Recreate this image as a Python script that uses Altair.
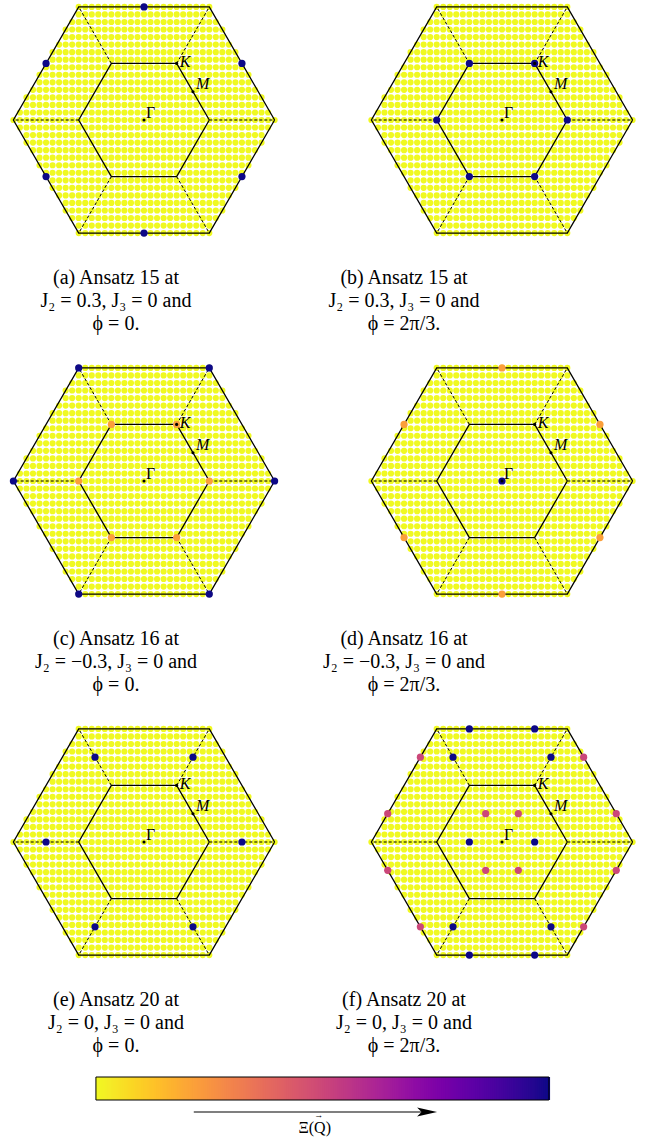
import numpy as np
import pandas as pd
import altair as alt

S3 = np.sqrt(3.0)

# ---------------------------------------------------------------
# Momentum grid of the extended Brillouin zone (units: |ΓK| = 1)
# ---------------------------------------------------------------
GRID_DX = 0.1
GRID_DY = S3 / 15

# Corners of the first zone (radius 1) and of the extended zone (radius 2)
corner_angles = [0, 60, 120, 180, 240, 300, 360]
inner_radius = 1.0
outer_radius = 2.0

# High-symmetry points
sym_names = ["Γ", "K", "M"]
sym_x = [0.0, 0.5, 0.75]
sym_y = [0.0, S3 / 2, S3 / 4]

# Normalised Ξ(Q) at the momenta where the structure factor departs from its
# background value, one set per panel (x, y, value)
a_x = [0.0, 0.0, -1.5, 1.5, -1.5, 1.5]
a_y = [S3, -S3, S3 / 2, S3 / 2, -S3 / 2, -S3 / 2]
a_v = [1, 1, 1, 1, 1, 1]

b_x = [1.0, -1.0, 0.5, -0.5, 0.5, -0.5]
b_y = [0.0, 0.0, S3 / 2, S3 / 2, -S3 / 2, -S3 / 2]
b_v = [1, 1, 1, 1, 1, 1]

c_x = [2.0, -2.0, 1.0, -1.0, 1.0, -1.0, 1.0, -1.0, 0.5, -0.5, 0.5, -0.5]
c_y = [0.0, 0.0, S3, S3, -S3, -S3, 0.0, 0.0, S3 / 2, S3 / 2, -S3 / 2, -S3 / 2]
c_v = [1, 1, 1, 1, 1, 1, 0.22, 0.22, 0.22, 0.22, 0.22, 0.22]

d_x = [0.0, 0.0, -1.5, 1.5, -1.5, 1.5, 0.0]
d_y = [S3, -S3, S3 / 2, S3 / 2, -S3 / 2, -S3 / 2, 0.0]
d_v = [0.22, 0.22, 0.22, 0.22, 0.22, 0.22, 1]

e_x = [1.5, -1.5, 0.75, -0.75, 0.75, -0.75]
e_y = [0.0, 0.0, 0.75 * S3, 0.75 * S3, -0.75 * S3, -0.75 * S3]
e_v = [1, 1, 1, 1, 1, 1]

f_x = [0.5, -0.5, 0.5, -0.5, 0.75, -0.75, 0.75, -0.75, 0.5, -0.5,
       0.25, -0.25, 0.25, -0.25, 1.75, -1.75, 1.75, -1.75,
       1.25, -1.25, 1.25, -1.25]
f_y = [S3, S3, -S3, -S3, 0.75 * S3, 0.75 * S3, -0.75 * S3, -0.75 * S3, 0.0, 0.0,
       S3 / 4, S3 / 4, -S3 / 4, -S3 / 4, S3 / 4, S3 / 4, -S3 / 4, -S3 / 4,
       0.75 * S3, 0.75 * S3, -0.75 * S3, -0.75 * S3]
f_v = [1] * 10 + [0.5] * 12

captions = [
    ["(a) Ansatz 15 at", "J₂ = 0.3, J₃ = 0 and", "ϕ = 0."],
    ["(b) Ansatz 15 at", "J₂ = 0.3, J₃ = 0 and", "ϕ = 2π/3."],
    ["(c) Ansatz 16 at", "J₂ = −0.3, J₃ = 0 and", "ϕ = 0."],
    ["(d) Ansatz 16 at", "J₂ = −0.3, J₃ = 0 and", "ϕ = 2π/3."],
    ["(e) Ansatz 20 at", "J₂ = 0, J₃ = 0 and", "ϕ = 0."],
    ["(f) Ansatz 20 at", "J₂ = 0, J₃ = 0 and", "ϕ = 2π/3."],
]

# ---------------------------------------------------------------
# Derived tables
# ---------------------------------------------------------------
gx = np.round(np.arange(-20, 21) * GRID_DX, 6)
gy = np.arange(-15, 16) * GRID_DY
GX, GY = np.meshgrid(gx, gy)
GX, GY = GX.ravel(), GY.ravel()
inside = (np.abs(GY) <= S3 + 1e-9) & (np.abs(GX) <= 2 - np.abs(GY) / S3 + 1e-9)
grid_df = pd.DataFrame({"x": GX[inside], "y": GY[inside], "v": 0.0})

ang = np.radians(corner_angles)
ring_rows = []
for name, r in [("inner", inner_radius), ("outer", outer_radius)]:
    for k, a in enumerate(ang):
        ring_rows.append({"ring": name, "k": k, "x": r * np.cos(a), "y": r * np.sin(a)})
ring_df = pd.DataFrame(ring_rows)

spoke_df = pd.DataFrame({
    "x": inner_radius * np.cos(ang[:-1]), "y": inner_radius * np.sin(ang[:-1]),
    "x2": outer_radius * np.cos(ang[:-1]), "y2": outer_radius * np.sin(ang[:-1]),
})

sym_df = pd.DataFrame({"name": sym_names, "x": sym_x, "y": sym_y})
one_row = pd.DataFrame({"k": [0]})

# ---------------------------------------------------------------
# Panel geometry (pixels per unit, hexagon centre inside each panel)
# ---------------------------------------------------------------
UNIT = 65.3
CY = 120                       # hexagon centre from the panel top
LEFT_W, RIGHT_W = 280, 346
LEFT_CX, RIGHT_CX = 140, 206   # hexagon centre from the panel left
ROW_H = [361, 361, 354]
CAPTION_X = {"left": 112, "right": 108}
CAPTION_Y = 284

cs = alt.Scale(scheme="plasma", reverse=True, domain=[0, 1])
C = alt.Color("v:Q", scale=cs, legend=None)
SERIF = "Liberation Serif"


def panel(hx, hy, hv, caption, side, height):
    width = LEFT_W if side == "left" else RIGHT_W
    cx = LEFT_CX if side == "left" else RIGHT_CX
    xs = alt.Scale(domain=[-cx / UNIT, (width - cx) / UNIT], nice=False, zero=False)
    ys = alt.Scale(domain=[-(height - CY) / UNIT, CY / UNIT], nice=False, zero=False)
    X = alt.X("x:Q", scale=xs, axis=None)
    Y = alt.Y("y:Q", scale=ys, axis=None)

    hl_df = pd.DataFrame({"x": hx, "y": hy, "v": hv})
    grid = alt.Chart(grid_df).mark_circle(size=38, opacity=1).encode(x=X, y=Y, color=C)
    rings = alt.Chart(ring_df).mark_line(color="black", strokeWidth=1.3).encode(
        x=X, y=Y, detail="ring:N", order="k:Q")
    spokes = alt.Chart(spoke_df).mark_rule(color="black", strokeWidth=1, strokeDash=[3, 2]).encode(
        x=X, y=Y, x2="x2:Q", y2="y2:Q")
    hot = alt.Chart(hl_df).mark_circle(size=52, opacity=1).encode(x=X, y=Y, color=C)
    dots = alt.Chart(sym_df).mark_circle(size=10, color="black", opacity=1).encode(x=X, y=Y)
    lab_g = alt.Chart(sym_df).transform_filter("datum.name == 'Γ'").mark_text(
        font=SERIF, fontSize=16, align="left", baseline="middle", dx=2, dy=-7, color="black"
    ).encode(x=X, y=Y, text="name:N")
    lab_k = alt.Chart(sym_df).transform_filter("datum.name == 'K'").mark_text(
        font=SERIF, fontSize=16, fontStyle="italic", align="left", baseline="middle", dx=3, dy=-1,
        color="black").encode(x=X, y=Y, text="name:N")
    lab_m = alt.Chart(sym_df).transform_filter("datum.name == 'M'").mark_text(
        font=SERIF, fontSize=16, fontStyle="italic", align="left", baseline="middle", dx=3, dy=-8,
        color="black").encode(x=X, y=Y, text="name:N")
    cap = alt.Chart(one_row).mark_text(
        text=caption, font=SERIF, fontSize=20, lineHeight=23, align="center",
        baseline="alphabetic", color="black").encode(
        x=alt.value(CAPTION_X[side]), y=alt.value(CAPTION_Y))
    return alt.layer(grid, rings, spokes, hot, dots, lab_g, lab_k, lab_m, cap).properties(
        width=width, height=height)


panels = [
    panel(a_x, a_y, a_v, captions[0], "left", ROW_H[0]),
    panel(b_x, b_y, b_v, captions[1], "right", ROW_H[0]),
    panel(c_x, c_y, c_v, captions[2], "left", ROW_H[1]),
    panel(d_x, d_y, d_v, captions[3], "right", ROW_H[1]),
    panel(e_x, e_y, e_v, captions[4], "left", ROW_H[2]),
    panel(f_x, f_y, f_v, captions[5], "right", ROW_H[2]),
]

rows = [alt.hconcat(panels[i], panels[i + 1], spacing=12) for i in (0, 2, 4)]

# ---------------------------------------------------------------
# Colour bar with the direction arrow of Ξ(Q)
# ---------------------------------------------------------------
N_STRIP = 240
cb_t = np.arange(N_STRIP) / N_STRIP
strip_df = pd.DataFrame({"t": cb_t, "t2": cb_t + 1.6 / N_STRIP, "v": cb_t + 0.5 / N_STRIP})
cbx = alt.Scale(domain=[0, 1], nice=False, zero=False)
TX = alt.X("t:Q", scale=cbx, axis=None)
BAR_H = 23

arrow_start, arrow_end, head_at, label_at = 0.216, 0.72, 0.731, 0.483

strips = alt.Chart(strip_df).mark_rect(strokeWidth=0).encode(
    x=TX, x2="t2:Q", y=alt.value(0), y2=alt.value(BAR_H), color=C)
frame = alt.Chart(pd.DataFrame({"t": [0.0], "t2": [1.0]})).mark_rect(
    fillOpacity=0, stroke="black", strokeWidth=1).encode(
    x=TX, x2="t2:Q", y=alt.value(0), y2=alt.value(BAR_H))
shaft = alt.Chart(pd.DataFrame({"t": [arrow_start], "t2": [arrow_end]})).mark_rule(
    color="black", strokeWidth=1.2).encode(x=TX, x2="t2:Q", y=alt.value(35))
head = alt.Chart(pd.DataFrame({"t": [head_at]})).mark_point(
    shape="M-1,-0.45L1,0L-1,0.45L-0.55,0Z", filled=True, color="black", opacity=1,
    size=400, strokeWidth=0).encode(x=TX, y=alt.value(35))
label_df = pd.DataFrame({"t": [label_at], "s": ["Ξ(Q)"], "arrow": ["→"]})
label = alt.Chart(label_df).mark_text(
    font=SERIF, fontSize=16, baseline="middle", align="center", color="black").encode(
    x=TX, y=alt.value(51), text="s:N")
vec = alt.Chart(label_df).mark_text(
    font=SERIF, fontSize=9, baseline="middle", align="center", color="black", dx=4).encode(
    x=TX, y=alt.value(38), text="arrow:N")

colorbar = alt.layer(strips, frame, shaft, head, label, vec).properties(width=453, height=60)

chart = alt.vconcat(*rows, colorbar, spacing=0, center=True).properties(
    padding={"left": 4, "top": 0, "right": 0, "bottom": 0}
).configure_view(stroke=None)

chart.save("out.html", embed_options={"renderer": "svg", "actions": False})
